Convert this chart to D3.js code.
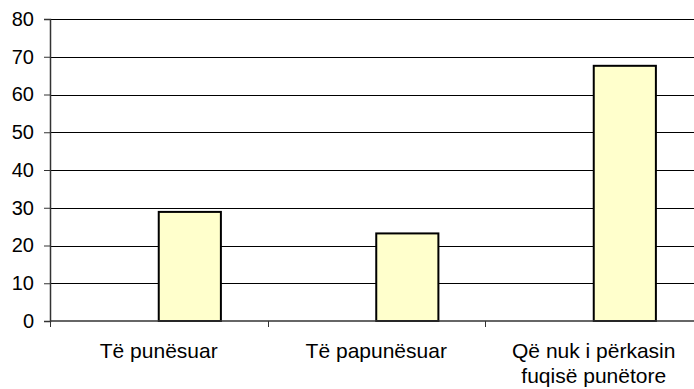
<!DOCTYPE html>
<html>
<head>
<meta charset="utf-8">
<script src="https://cdn.jsdelivr.net/npm/d3@7"></script>
<style>
  html, body { margin: 0; padding: 0; background: #fff; }
  svg { display: block; }
  text { font-family: "Liberation Sans", Arial, sans-serif; fill: #000; }
</style>
</head>
<body>
<svg id="chart" width="694" height="389"></svg>
<script>
// Category labels (each may wrap to two lines)
const categories = ["Të punësuar", "Të papunësuar", "Që nuk i përkasin fuqisë punëtore"];
const categoryLines = [["Të punësuar"], ["Të papunësuar"], ["Që nuk i përkasin", "fuqisë punëtore"]];
// Series values (percent)
const values = [28.9, 23.2, 67.6];
// Y axis ticks
const yTicks = [0, 10, 20, 30, 40, 50, 60, 70, 80];

const svg = d3.select("#chart");
const plotLeft = 50, plotTop = 19, plotBottom = 321, bandW = 217.5;
const plotRight = plotLeft + categories.length * bandW;

const y = d3.scaleLinear().domain([0, 80]).range([plotBottom, plotTop]);
const x = d3.scaleBand().domain(categories).range([plotLeft, plotRight]).padding(0);
// Two slots per cluster; the values sit in the second slot
const slot = d3.scaleBand().domain([0, 1]).range([0, x.bandwidth()]).paddingInner(0).paddingOuter(0.75);

// Horizontal gridlines
svg.append("g").selectAll("line").data(yTicks.filter(t => t > 0)).join("line")
  .attr("x1", plotLeft).attr("x2", plotRight)
  .attr("y1", d => Math.round(y(d)) + 0.5).attr("y2", d => Math.round(y(d)) + 0.5)
  .attr("stroke", "#000").attr("stroke-width", 1);

// Bars
svg.append("g").selectAll("rect").data(values).join("rect")
  .attr("x", (d, i) => x(categories[i]) + slot(1))
  .attr("width", slot.bandwidth())
  .attr("y", d => y(d))
  .attr("height", d => y(0) - y(d))
  .attr("fill", "#FFFFCC").attr("stroke", "#000").attr("stroke-width", 2);

// Y axis
const yAxis = d3.axisLeft(y).tickValues(yTicks).tickSize(6).tickPadding(10).tickFormat(d3.format("d"));
const gy = svg.append("g").attr("transform", `translate(${plotLeft},0)`).call(yAxis);
gy.select(".domain").attr("stroke", "#333").attr("stroke-width", 1.5);
gy.selectAll(".tick line").attr("stroke", "#333");
gy.selectAll(".tick text").style("font-size", "20px").style("font-family", "Liberation Sans, Arial, sans-serif").attr("fill", "#000");

// X axis line and boundary ticks
const gx = svg.append("g");
gx.append("line").attr("x1", plotLeft).attr("x2", plotRight).attr("y1", plotBottom).attr("y2", plotBottom)
  .attr("stroke", "#333").attr("stroke-width", 1.5);
gx.selectAll("line.bt").data(d3.range(categories.length + 1)).join("line").attr("class", "bt")
  .attr("x1", i => Math.round(plotLeft + i * x.step()) + 0.5).attr("x2", i => Math.round(plotLeft + i * x.step()) + 0.5)
  .attr("y1", plotBottom).attr("y2", plotBottom + 6)
  .attr("stroke", "#333");

// Category labels
const lab = svg.append("g").selectAll("text").data(categoryLines).join("text")
  .attr("text-anchor", "middle")
  .style("font-size", "21px")
  .attr("x", (d, i) => x(categories[i]) + x.bandwidth() / 2)
  .attr("y", 358);
lab.selectAll("tspan").data(d => d).join("tspan")
  .attr("x", function() { return d3.select(this.parentNode).attr("x"); })
  .attr("dy", (d, i) => i === 0 ? 0 : 24.5)
  .text(d => d);
</script>
</body>
</html>
